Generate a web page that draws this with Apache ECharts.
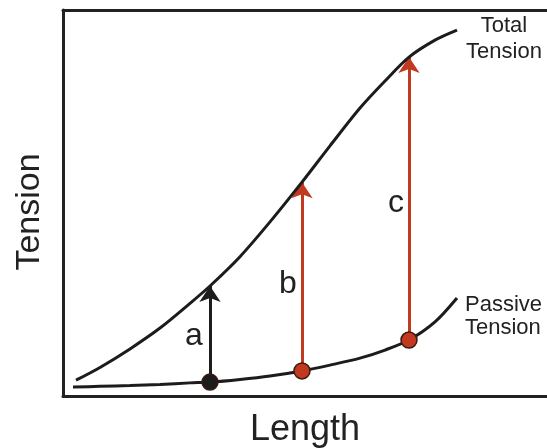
<!DOCTYPE html>
<html>
<head>
<meta charset="utf-8">
<script src="https://cdn.jsdelivr.net/npm/echarts@6/dist/echarts.min.js"></script>
<style>
  html, body { margin: 0; padding: 0; background: #fff; }
  #chart { width: 547px; height: 448px; }
</style>
</head>
<body>
<div id="chart"></div>
<script>
// curve samples (length, tension)
const totalLength = [2.6, 7.4, 13.4, 19.4, 25.4, 29.4, 35.4, 41.4, 47.8, 53.4, 59.4, 64.4, 69.2, 74.4, 78.8]
const totalTension = [4.1, 7.4, 12.2, 17.6, 24.0, 28.5, 36.1, 45.1, 55.4, 64.8, 74.6, 81.6, 87.8, 92.2, 94.8]
const passiveLength = [2.0, 7.4, 13.4, 19.4, 25.4, 29.4, 35.4, 41.4, 47.8, 53.4, 59.4, 64.4, 69.2, 74.4, 78.8]
const passiveTension = [2.3, 2.5, 2.7, 3.0, 3.4, 3.6, 4.3, 5.2, 6.5, 8.0, 9.8, 11.9, 14.5, 19.2, 25.4]
// the three lengths where the arrows a, b, c stand
const arrowLength = [29.4, 47.8, 69.2]
const arrowNames = ['a', 'b', 'c']

const RED = '#c1391f'
const INK = '#1c1c1c'

const zip = (xs, ys) => xs.map((x, i) => [x, ys[i]])
const yAt = (xs, ys, x) => ys[xs.indexOf(x)]

const arrows = arrowLength.map((x, i) => ({
  coords: [[x, yAt(passiveLength, passiveTension, x)], [x, yAt(totalLength, totalTension, x)]],
  lineStyle: { color: i === 0 ? INK : RED }
}))
const dots = arrowLength.map((x, i) => ({
  value: [x, yAt(passiveLength, passiveTension, x)],
  itemStyle: { color: i === 0 ? INK : RED }
}))

const frame = { show: true, onZero: false, lineStyle: { color: '#222', width: 3 } }
const bare = { axisTick: { show: false }, axisLabel: { show: false }, splitLine: { show: false } }

const myChart = echarts.init(document.getElementById('chart'))
myChart.setOption({
  animation: false,
  textStyle: { fontFamily: 'Liberation Sans, Arial, sans-serif' },
  grid: { left: 63, right: 0, top: 10, bottom: 52, outerBoundsMode: 'none', containLabel: false },
  xAxis: [
    {
      type: 'value',
      min: 0,
      max: 96.8,
      name: 'Length',
      nameLocation: 'middle',
      nameGap: 16,
      nameTextStyle: { fontSize: 36, color: '#222' },
      axisLine: frame,
      ...bare
    },
    {
      type: 'value',
      position: 'top',
      min: 0,
      max: 96.8,
      axisLine: frame,
      ...bare
    }
  ],
  yAxis: {
    type: 'value',
    min: 0,
    max: 100,
    name: 'Tension',
    nameLocation: 'middle',
    nameGap: 16,
    nameTextStyle: { fontSize: 34, color: '#222', padding: [0, 18, 0, 0] },
    axisLine: frame,
    ...bare
  },
  series: [
    {
      name: 'Total Tension',
      type: 'line',
      smooth: 0.3,
      symbol: 'none',
      lineStyle: { color: INK, width: 3 },
      data: zip(totalLength, totalTension)
    },
    {
      name: 'Passive Tension',
      type: 'line',
      smooth: 0.3,
      symbol: 'none',
      lineStyle: { color: INK, width: 3 },
      data: zip(passiveLength, passiveTension)
    },
    {
      type: 'lines',
      coordinateSystem: 'cartesian2d',
      symbol: ['none', 'arrow'],
      symbolSize: [12, 16],
      lineStyle: { width: 3, opacity: 1, curveness: 0 },
      data: arrows
    },
    {
      type: 'scatter',
      symbolSize: 16,
      itemStyle: { opacity: 1, borderColor: '#3a1a12', borderWidth: 1.5 },
      data: dots,
      z: 5
    },
    {
      type: 'scatter',
      symbolSize: 0,
      silent: true,
      itemStyle: { opacity: 1 },
      label: {
        show: true,
        position: 'inside',
        formatter: p => p.name,
        color: '#222'
      },
      data: [
        { name: arrowNames[0], value: [26.2, 15.5], label: { fontSize: 32 } },
        { name: arrowNames[1], value: [45.0, 29.0], label: { fontSize: 32 } },
        { name: arrowNames[2], value: [66.6, 50.0], label: { fontSize: 32 } },
        { name: 'Total\nTension', value: [88.2, 92.5], label: { fontSize: 22, lineHeight: 26, align: 'center' } },
        { name: 'Passive\nTension', value: [80.4, 20.6], label: { fontSize: 22, lineHeight: 23, align: 'left' } }
      ]
    }
  ]
})
</script>
</body>
</html>
